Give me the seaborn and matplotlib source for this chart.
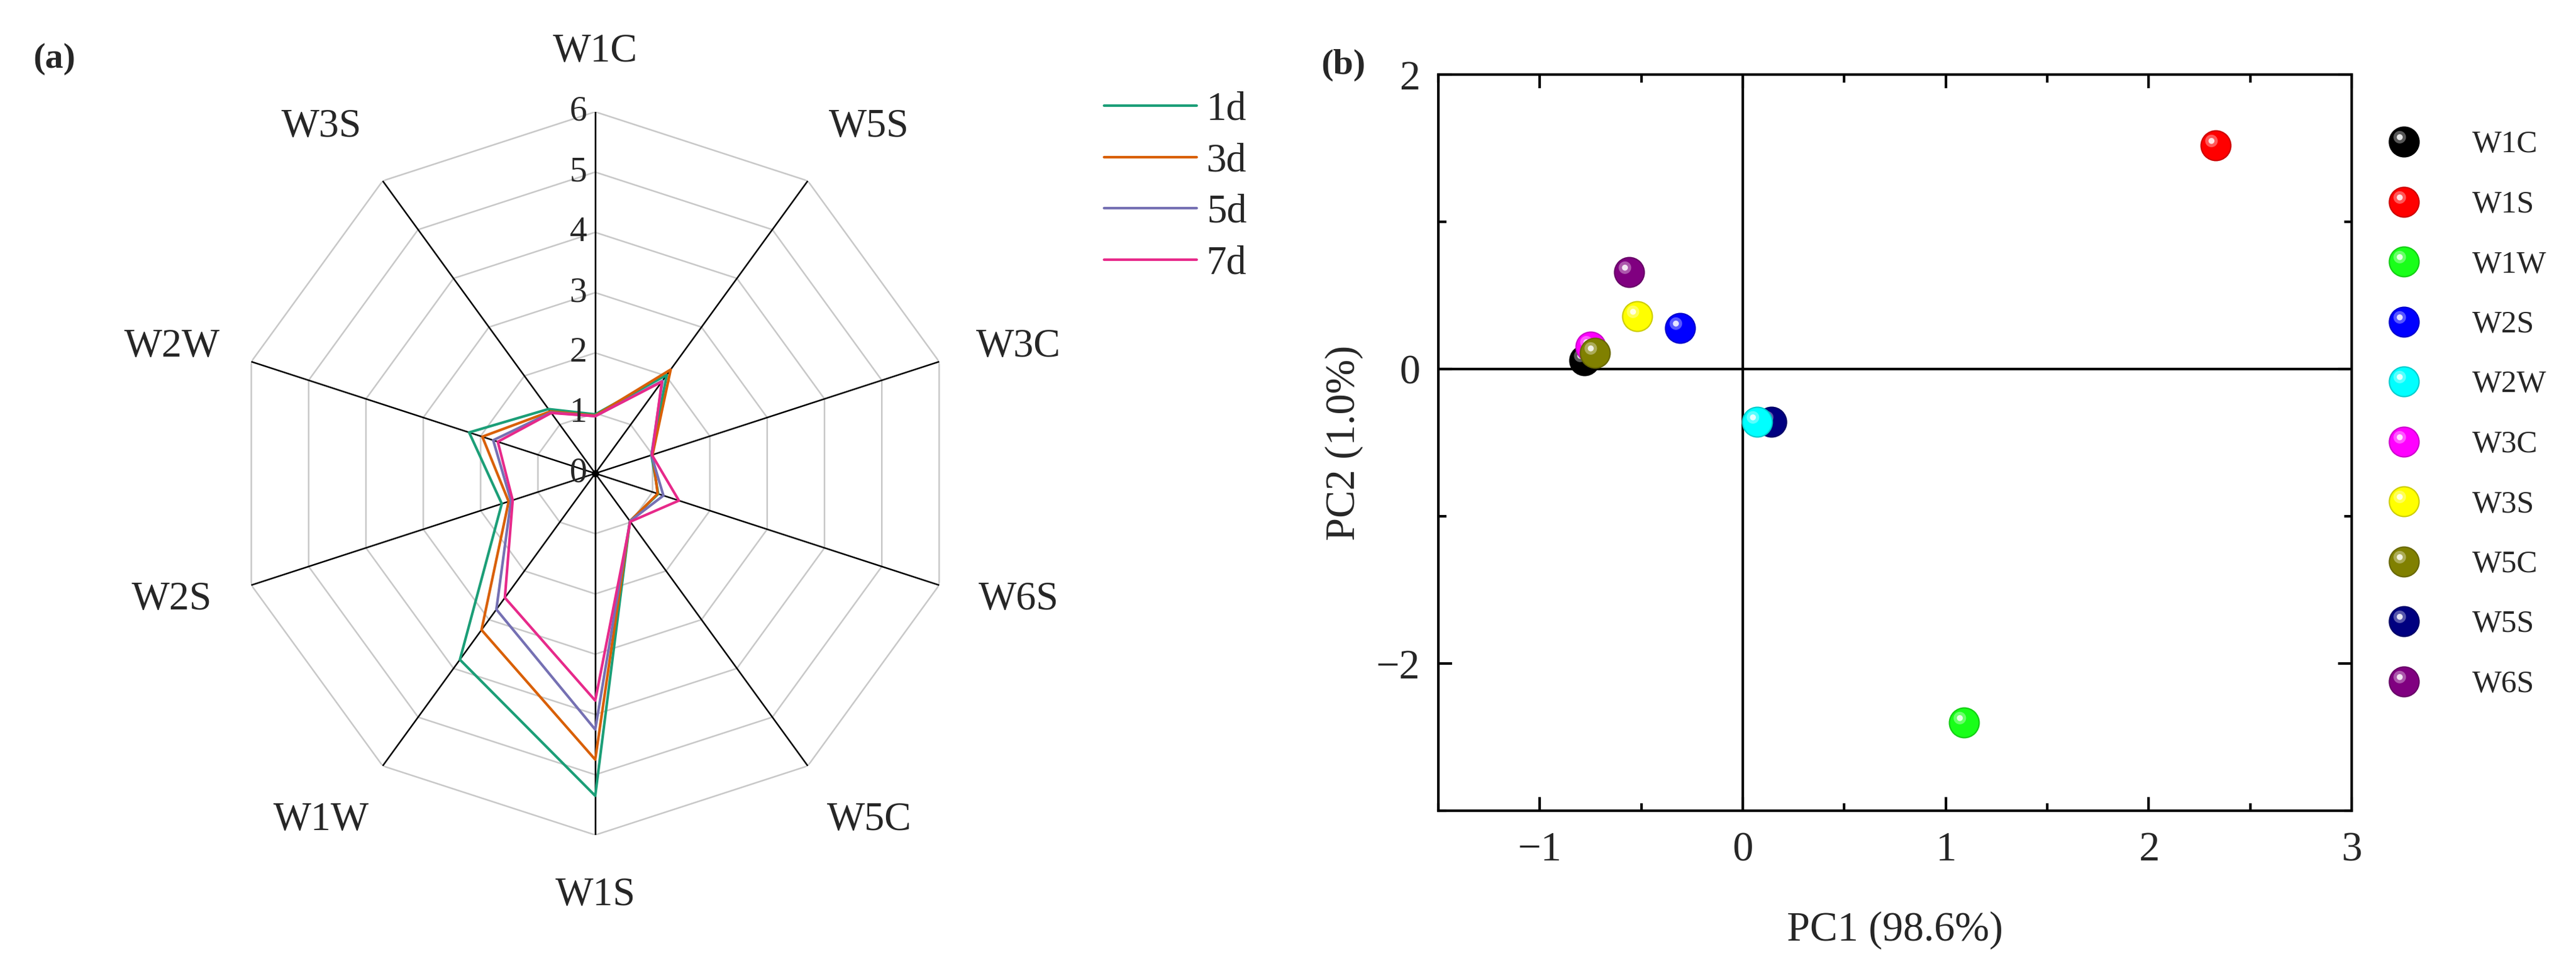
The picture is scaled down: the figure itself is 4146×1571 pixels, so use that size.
"""
E-nose figure: (a) radar plot of sensor responses over storage days,
(b) PCA score plot of the ten sensors.
"""

import matplotlib
matplotlib.use("Agg")
import matplotlib.pyplot as plt
import numpy as np
import pandas as pd
import seaborn as sns
from matplotlib.legend_handler import HandlerTuple
from matplotlib.lines import Line2D
from matplotlib.markers import MarkerStyle
from matplotlib.ticker import MultipleLocator
from matplotlib.transforms import Affine2D, ScaledTranslation

# ---------------------------------------------------------------------------
# Data
# ---------------------------------------------------------------------------
SENSORS = ["W1C", "W5S", "W3C", "W6S", "W5C", "W1S", "W1W", "W2S", "W2W", "W3S"]
DAYS = ["1d", "3d", "5d", "7d"]
RESP_1D = [0.98, 2.02, 0.98, 1.10, 0.98, 5.35, 3.82, 1.63, 2.20, 1.32]
RESP_3D = [0.96, 2.13, 1.00, 1.09, 0.98, 4.75, 3.21, 1.51, 1.97, 1.27]
RESP_5D = [0.95, 1.90, 0.98, 1.19, 0.98, 4.25, 2.79, 1.47, 1.78, 1.25]
RESP_7D = [0.95, 1.88, 0.99, 1.46, 0.99, 3.77, 2.55, 1.44, 1.70, 1.24]
RADAR_TICKS = [0, 1, 2, 3, 4, 5, 6]

PCA_LABELS = ["W1C", "W1S", "W1W", "W2S", "W2W", "W3C", "W3S", "W5C", "W5S", "W6S"]
PC1 = [-0.78, 2.33, 1.09, -0.31, 0.07, -0.75, -0.52, -0.73, 0.14, -0.56]
PC2 = [0.06, 1.52, -2.40, 0.28, -0.36, 0.15, 0.36, 0.11, -0.36, 0.66]
PCA_COLORS = ["#000000", "#ff0000", "#19ff19", "#0000ff", "#00ffff",
              "#ff00ff", "#ffff00", "#808000", "#000080", "#800080"]
# W2W sits on top of W5S in the original
DRAW_ORDER = ["W1C", "W1S", "W1W", "W2S", "W5S", "W2W", "W3C", "W3S", "W5C", "W6S"]

DAY_COLORS = sns.color_palette("Dark2", 4)

W, H, DPI = 4146, 1571, 300

sns.set_style("ticks")
plt.rcParams.update({
    "font.family": ["Liberation Serif", "DejaVu Serif"],
    "axes.unicode_minus": True,
})

# glossy spot in the upper left of each ball
HL_BIG = MarkerStyle("o", transform=Affine2D().scale(0.42).translate(-0.15, 0.16))
HL_SMALL = MarkerStyle("o", transform=Affine2D().scale(0.20).translate(-0.15, 0.16))

fig = plt.figure(figsize=(W / DPI, H / DPI), dpi=DPI)

# ---------------------------------------------------------------------------
# (a) radar
# ---------------------------------------------------------------------------
ax_a = fig.add_axes([376 / W, (H - 1344) / H, 1164 / W, 1164 / H], projection="polar")
ax_a.set_theta_zero_location("N")
ax_a.set_theta_direction(-1)
ax_a.set_ylim(0, 6)
ax_a.grid(False)
ax_a.spines["polar"].set_visible(False)
ax_a.set_xticks([])
ax_a.set_yticks([])
ax_a.patch.set_alpha(0)

n = len(SENSORS)
theta = np.linspace(0, 2 * np.pi, n, endpoint=False)
theta_closed = np.append(theta, 2 * np.pi)

for k in RADAR_TICKS[1:]:
    ax_a.plot(theta_closed, [k] * (n + 1), color="#c8c8c8", lw=0.6, zorder=1)
for t in theta:
    ax_a.plot([t, t], [0, 6], color="black", lw=0.6, zorder=2)
ax_a.plot([0], [0], "o", color="black", ms=1.8, zorder=2)

rows = []
for day, vals in zip(DAYS, [RESP_1D, RESP_3D, RESP_5D, RESP_7D]):
    for i in range(n + 1):
        rows.append({"day": day, "theta": theta_closed[i], "resp": vals[i % n]})
radar_df = pd.DataFrame(rows)

sns.lineplot(data=radar_df, x="theta", y="resp", hue="day", hue_order=DAYS,
             palette=DAY_COLORS, sort=False, estimator=None, lw=1.0,
             legend=False, ax=ax_a, zorder=3)
ax_a.set_xlabel("")
ax_a.set_ylabel("")

off = ScaledTranslation(-3.2 / 72, 0, fig.dpi_scale_trans)
for k in RADAR_TICKS:
    ax_a.text(0, k, str(k), ha="right", va="center", fontsize=13.5,
              transform=ax_a.transData + off, zorder=4)

for t, name in zip(theta, SENSORS):
    vertical = abs(np.sin(t)) < 1e-6
    r = 7.0 if vertical else 7.33
    t_lab = t if vertical else np.arctan2(np.sin(t), 0.92 * np.cos(t))
    ax_a.text(t_lab, r, name, ha="center", va="center", fontsize=15.5, clip_on=False)

day_handles = [Line2D([], [], color=c, lw=1.0) for c in DAY_COLORS]
fig.legend(day_handles, DAYS, loc="upper left", bbox_to_anchor=(1777 / W, 1 - 147 / H),
           frameon=False, fontsize=15.5, handlelength=2.3, handletextpad=0.25,
           labelspacing=0.36, borderpad=0, borderaxespad=0)

fig.text(87 / W, 1 - 95 / H, "(a)", fontsize=14, fontweight="bold",
         ha="center", va="center")

# ---------------------------------------------------------------------------
# (b) PCA scores
# ---------------------------------------------------------------------------
ax_b = fig.add_axes([2315 / W, (H - 1305) / H, (3785 - 2315) / W, (1305 - 120) / H])
pca_df = pd.DataFrame({"sensor": PCA_LABELS, "PC1": PC1, "PC2": PC2})
color_of = dict(zip(PCA_LABELS, PCA_COLORS))

ax_b.axhline(0, color="black", lw=1.0, zorder=1)
ax_b.axvline(0, color="black", lw=1.0, zorder=1)

MS = 11.5
S = MS ** 2


def _edge(c):
    return tuple(0.8 * np.array(matplotlib.colors.to_rgb(c)))


for name in DRAW_ORDER:
    row = pca_df[pca_df["sensor"] == name]
    c = color_of[name]
    sns.scatterplot(data=row, x="PC1", y="PC2", color=c, s=S,
                    edgecolor=_edge(c), linewidth=0.5, legend=False, ax=ax_b, zorder=3)
    ax_b.scatter(row["PC1"], row["PC2"], marker=HL_BIG, s=S, color="white",
                 alpha=0.35, linewidths=0, zorder=3)
    ax_b.scatter(row["PC1"], row["PC2"], marker=HL_SMALL, s=S, color="white",
                 alpha=0.85, linewidths=0, zorder=3)

ax_b.set_xlim(-1.5, 3)
ax_b.set_ylim(-3, 2)
ax_b.xaxis.set_major_locator(MultipleLocator(1))
ax_b.xaxis.set_minor_locator(MultipleLocator(0.5))
ax_b.yaxis.set_major_locator(MultipleLocator(2))
ax_b.yaxis.set_minor_locator(MultipleLocator(1))
ax_b.tick_params(which="both", direction="in", top=True, right=True,
                 width=1.0, color="black", labelsize=16)
ax_b.tick_params(which="major", length=5.3)
ax_b.tick_params(which="minor", length=3.0)
ax_b.tick_params(axis="x", pad=8)
ax_b.tick_params(axis="y", pad=7)
for sp in ax_b.spines.values():
    sp.set_color("black")
    sp.set_linewidth(1.0)
ax_b.set_xlabel("PC1 (98.6%)", fontsize=16, labelpad=16)
ax_b.set_ylabel("PC2 (1.0%)", fontsize=16, labelpad=5)

# legend proxies: empty scatters so the offset highlight survives
pca_handles = []
for name in PCA_LABELS:
    c = color_of[name]
    pca_handles.append((
        ax_b.scatter([], [], marker="o", s=S, color=c, edgecolor=_edge(c), linewidths=0.5),
        ax_b.scatter([], [], marker=HL_BIG, s=S, color="white", alpha=0.35, linewidths=0),
        ax_b.scatter([], [], marker=HL_SMALL, s=S, color="white", alpha=0.85, linewidths=0),
    ))
fig.legend(pca_handles, PCA_LABELS, loc="upper left",
           bbox_to_anchor=(3809 / W, 1 - 210 / H), frameon=False, fontsize=12,
           handlelength=2.4, handletextpad=1.0, labelspacing=1.0,
           borderpad=0, borderaxespad=0, scatterpoints=1, scatteryoffsets=[0.5],
           handler_map={tuple: HandlerTuple(ndivide=1)})

fig.text(2162 / W, 1 - 105 / H, "(b)", fontsize=14, fontweight="bold",
         ha="center", va="center")

fig.savefig("out.png", dpi=DPI, facecolor="white")
